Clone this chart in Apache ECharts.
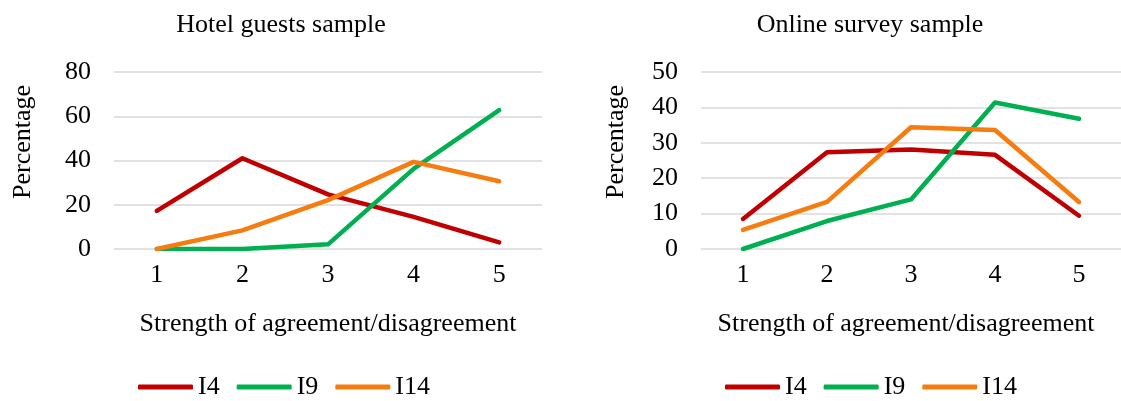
<!DOCTYPE html>
<html>
<head>
<meta charset="utf-8">
<script src="https://cdn.jsdelivr.net/npm/echarts@6/dist/echarts.min.js"></script>
<style>
  html, body { margin: 0; padding: 0; background: #fff; }
  #chart { width: 1121px; height: 401px; }
</style>
</head>
<body>
<div id="chart"></div>
<script>
// Agreement levels on the horizontal axis
var categories = ['1', '2', '3', '4', '5'];
var seriesNames = ['I4', 'I9', 'I14'];

// Hotel guests sample (percentages)
var hotelI4  = [17.2, 41.0, 24.7, 14.5, 3.0];
var hotelI9  = [0, 0, 2.1, 36.2, 62.8];
var hotelI14 = [0, 8.4, 22.1, 39.4, 30.6];

// Online survey sample (percentages)
var onlineI4  = [8.5, 27.3, 28.1, 26.6, 9.4];
var onlineI9  = [0, 7.9, 14.0, 41.4, 36.8];
var onlineI14 = [5.4, 13.3, 34.4, 33.6, 13.3];

var colors = ['#C00000', '#00B050', '#F57C0E'];
var FONT = 'Liberation Serif';
var FS = 26;
var TXT = '#000';

function makeSeries(name, data, idx, axisIdx) {
  return {
    name: name,
    type: 'line',
    xAxisIndex: axisIdx,
    yAxisIndex: axisIdx,
    data: data,
    symbol: 'none',
    smooth: false,
    color: colors[idx],
    lineStyle: { width: 4.5, color: colors[idx], cap: 'round', join: 'round' }
  };
}

function xAxis(gridIndex, namePad) {
  return {
    type: 'category',
    gridIndex: gridIndex,
    data: categories,
    boundaryGap: true,
    axisLine: { show: false },
    axisTick: { show: false },
    axisLabel: { color: TXT, fontFamily: FONT, fontSize: FS, margin: 13 },
    name: 'Strength of agreement/disagreement',
    nameLocation: 'middle',
    nameGap: 62,
    nameTextStyle: { color: TXT, fontFamily: FONT, fontSize: FS, padding: namePad }
  };
}

function yAxis(gridIndex, max, interval) {
  return {
    type: 'value',
    gridIndex: gridIndex,
    min: 0,
    max: max,
    interval: interval,
    axisLine: { show: false },
    axisTick: { show: false },
    axisLabel: { color: TXT, fontFamily: FONT, fontSize: FS, margin: 23 },
    splitLine: { lineStyle: { color: '#D9D9D9', width: 1.5 } }
  };
}

function legend(left) {
  return {
    left: left, top: 369, itemWidth: 55, itemHeight: 5, itemGap: 17, icon: 'roundRect',
    data: seriesNames.map(function (n) { return { name: n }; }),
    textStyle: { color: TXT, fontFamily: FONT, fontSize: FS }
  };
}

function yName(x) {
  return {
    type: 'text', x: x, y: 142, rotation: Math.PI / 2,
    style: { text: 'Percentage', fill: TXT, font: FS + 'px "Liberation Serif"',
             textAlign: 'center', textVerticalAlign: 'middle' }
  };
}

var chart = echarts.init(document.getElementById('chart'), null, { renderer: 'canvas' });
chart.setOption({
  backgroundColor: '#fff',
  animation: false,
  title: [
    { text: 'Hotel guests sample', left: 276, top: 7, textAlign: 'center',
      textStyle: { color: TXT, fontFamily: FONT, fontSize: FS, fontWeight: 'normal' } },
    { text: 'Online survey sample', left: 865, top: 7, textAlign: 'center',
      textStyle: { color: TXT, fontFamily: FONT, fontSize: FS, fontWeight: 'normal' } }
  ],
  grid: [
    { left: 114, top: 72, width: 428, height: 177 },
    { left: 701, top: 72, width: 428, height: 177 }
  ],
  xAxis: [xAxis(0, [0, 0, 0, 0]), xAxis(1, [0, 10, 0, 0])],
  yAxis: [yAxis(0, 80, 20), yAxis(1, 50, 10)],
  legend: [legend(133), legend(720)],
  graphic: [yName(23), yName(616)],
  series: [
    makeSeries('I4', hotelI4, 0, 0),
    makeSeries('I9', hotelI9, 1, 0),
    makeSeries('I14', hotelI14, 2, 0),
    makeSeries('I4', onlineI4, 0, 1),
    makeSeries('I9', onlineI9, 1, 1),
    makeSeries('I14', onlineI14, 2, 1)
  ]
});
</script>
</body>
</html>
